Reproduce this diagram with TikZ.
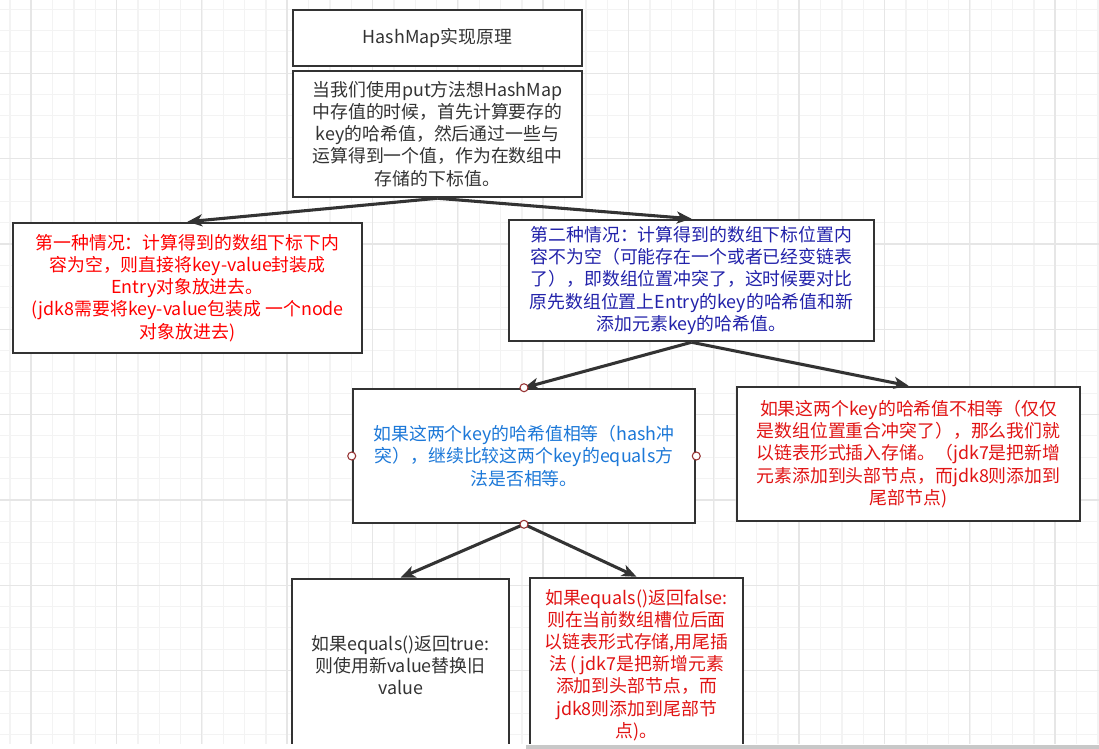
\documentclass[tikz,border=0pt]{standalone}
\usepackage{fontspec}
\setmainfont{Noto Sans CJK SC}
\usetikzlibrary{arrows.meta}
\definecolor{bordergray}{HTML}{333333}
\definecolor{textgray}{HTML}{333333}
\definecolor{redA}{RGB}{255,0,0}
\definecolor{blueA}{RGB}{34,34,170}
\definecolor{blueB}{RGB}{28,120,216}
\definecolor{redB}{RGB}{225,20,20}
\definecolor{portred}{RGB}{150,50,50}
\definecolor{gminorc}{HTML}{F3F3F3}
\definecolor{gmajorc}{HTML}{E6E6E6}
\definecolor{scrollc}{HTML}{C8C8C8}
\def\px{0.75pt}
\begin{document}
\begin{tikzpicture}[x=0.75pt,y=-0.75pt,
  box/.style={draw=bordergray, line width=1.9pt, fill=white, inner sep=0pt, align=center,
    font=\fontsize{13.4}{16.6}\selectfont},
  arr/.style={draw=bordergray, line width=2.3pt, -{Stealth[length=11pt,width=9pt,inset=3pt]}},
  port/.style={circle, draw=portred, fill=white, line width=0.8pt, inner sep=0pt, minimum size=6pt},
  gminor/.style={draw=gminorc, line width=0.8pt},
  gmajor/.style={draw=gmajorc, line width=0.8pt}
]
\useasboundingbox (0,0) rectangle (1099,749);
\clip (0,0) rectangle (1099,749);
\fill[white] (0,0) rectangle (1099,749);
% grid
\foreach \i in {0,...,51} \draw[gminor] ({10+21.333*\i},0) -- ({10+21.333*\i},749);
\foreach \j in {0,...,35} \draw[gminor] (0,{9.3+21.333*\j}) -- (1099,{9.3+21.333*\j});
\foreach \i in {0,...,12} \draw[gmajor] ({31+85.333*\i},0) -- ({31+85.333*\i},749);
\foreach \j in {0,...,7} \draw[gmajor] (0,{73.3+85.333*\j}) -- (1099,{73.3+85.333*\j});

% boxes
\node[box, text=textgray, minimum width=289*\px, minimum height=56*\px] (title) at (437.5,38) {HashMap实现原理};
\node[box, text=textgray, minimum width=289*\px, minimum height=126*\px] (put) at (437.5,134)
 {当我们使用put方法想HashMap\\中存值的时候，首先计算要存的\\key的哈希值，然后通过一些与\\运算得到一个值，作为在数组中\\存储的下标值。};
\node[box, text=redA, minimum width=349*\px, minimum height=130*\px] (first) at (187.5,288)
 {第一种情况：计算得到的数组下标下内\\容为空，则直接将key-value封装成\\Entry对象放进去。\\(jdk8需要将key-value包装成 一个node\\对象放进去)};
\node[box, text=blueA, minimum width=365*\px, minimum height=121*\px] (second) at (691.5,280.5)
 {第二种情况：计算得到的数组下标位置内\\容不为空（可能存在一个或者已经变链表\\了），即数组位置冲突了，这时候要对比\\原先数组位置上Entry的key的哈希值和新\\添加元素key的哈希值。};
\node[box, text=blueB, minimum width=342*\px, minimum height=134*\px] (same) at (524,456)
 {如果这两个key的哈希值相等（hash冲\\突），继续比较这两个key的equals方\\法是否相等。};
\node[box, text=redB, minimum width=343*\px, minimum height=134*\px] (diff) at (908.5,454)
 {如果这两个key的哈希值不相等（仅仅\\是数组位置重合冲突了），那么我们就\\以链表形式插入存储。（jdk7是把新增\\元素添加到头部节点，而jdk8则添加到\\尾部节点)};
\node[box, text=textgray, minimum width=217*\px, minimum height=172*\px] (eqtrue) at (400.5,665)
 {如果equals()返回true:\\则使用新value替换旧\\value};
\node[box, text=redB, minimum width=213*\px, minimum height=174*\px] (eqfalse) at (636.5,665)
 {如果equals()返回false:\\则在当前数组槽位后面\\以链表形式存储,用尾插\\法 ( jdk7是把新增元素\\添加到头部节点，而\\jdk8则添加到尾部节\\点)。};

% connectors
\draw[arr] (put.south) -- (first.north);
\draw[arr] (put.south) -- (second.north);
\draw[arr] (second.south) -- (same.north);
\draw[arr] (second.south) -- (diff.north);
\draw[arr] (same.south) -- (eqtrue.north);
\draw[arr] (same.south) -- (eqfalse.north);

% connection points on selected box
\node[port] (pn) at (same.north) {};
\node[port] (ps) at (same.south) {};
\node[port] (pw) at (same.west) {};
\node[port] (pe) at (same.east) {};

% bottom edge of the window
\fill[white] (0,744) rectangle (1099,749);
\fill[scrollc] (526,745) rectangle (1099,749);
\end{tikzpicture}
\end{document}
